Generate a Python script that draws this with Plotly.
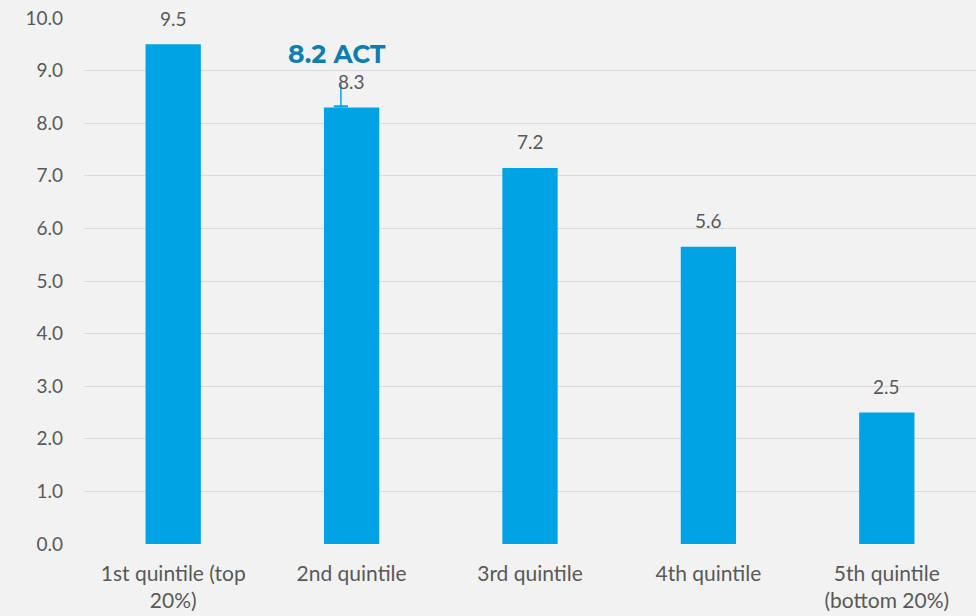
import plotly.graph_objects as go

categories = ["1st quintile (top<br>20%)", "2nd quintile", "3rd quintile", "4th quintile", "5th quintile<br>(bottom 20%)"]
values = [9.5, 8.3, 7.15, 5.65, 2.5]
value_labels = ["9.5", "8.3", "7.2", "5.6", "2.5"]
y_ticks = [0, 1, 2, 3, 4, 5, 6, 7, 8, 9, 10]
act_value = 8.2
act_label = "8.2 ACT"

BAR = "#00A3E3"
GRAY = "#595959"
FONT = "Lato, sans-serif"

fig = go.Figure()
fig.add_trace(go.Bar(x=list(range(len(categories))), y=values, marker_color=BAR, width=0.31,
                     marker_line_width=0, hoverinfo="skip"))

for i, (v, lab) in enumerate(zip(values, value_labels)):
    fig.add_annotation(x=i, y=v, text=lab, showarrow=False, yshift=26,
                       font=dict(family=FONT, size=19, color=GRAY))

# ACT marker
fig.add_shape(type="rect", x0=0.9, x1=0.98, y0=values[1], y1=values[1] + 0.04,
              fillcolor=BAR, line_width=0, layer="above")
fig.add_shape(type="line", x0=0.94, x1=0.94, y0=values[1], y1=values[1] + 0.45,
              line=dict(color=BAR, width=1.5), layer="above")
fig.add_annotation(x=0.92, y=values[1], text=f"<b>{act_label}</b>", showarrow=False, yshift=53,
                   font=dict(family="Montserrat, Lato, sans-serif", size=25, color="#0E7DAF"))

fig.update_layout(
    width=976, height=616,
    margin=dict(l=84, r=0, t=18, b=72),
    paper_bgcolor="#F2F2F2", plot_bgcolor="#F2F2F2",
    showlegend=False, bargap=0.69,
    font=dict(family=FONT, color=GRAY, size=19),
    xaxis=dict(tickmode="array", tickvals=list(range(len(categories))), ticktext=categories,
               range=[-0.5, 4.5], showgrid=False, zeroline=False, showline=False, ticks="",
               ticklabelstandoff=15,
               tickfont=dict(family=FONT, size=21, color=GRAY)),
    yaxis=dict(range=[0, 10], tickvals=y_ticks, ticktext=[f"{t:.1f}" for t in y_ticks],
               showgrid=True, gridcolor="#D9D9D9", gridwidth=1, zeroline=False,
               showline=False, ticks="", ticklabelstandoff=20,
               tickfont=dict(family=FONT, size=19, color=GRAY)),
)

fig.write_html("out.html")
